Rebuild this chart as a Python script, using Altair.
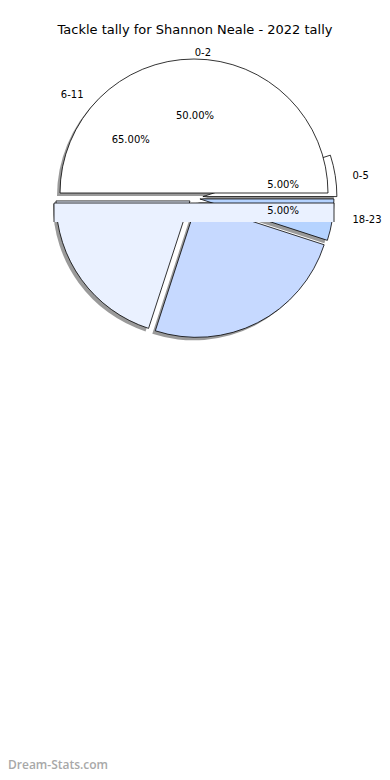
import altair as alt
import pandas as pd
import numpy as np

title_text = "Tackle tally for Shannon Neale - 2022 tally"
watermark = "Dream-Stats.com"

# wedges (percent of the circle, clockwise from 12 o'clock)
wedge_names = ["6-11", "12-17", "18-23", "0-5", "0-2"]
wedge_share = [20, 25, 5, 5, 50]
wedge_start = [55, 30, 25, 20, 75]
wedge_explode = [5, 6, 6, 9, 5]
wedge_colors = ["#eaf1ff", "#c6d9ff", "#b5d3ff", "#ffffff", "#ffffff"]

# category labels (angle in degrees clockwise from 12 o'clock, distance in px)
label_texts = ["0-2", "6-11", "0-5", "18-23"]
label_angle = [3.5, 313, 82, 98]
label_radius = [145, 151, 160, 160]
label_align = ["center", "right", "left", "left"]

# percentage labels
pct_texts = ["50.00%", "65.00%", "5.00%", "5.00%"]
pct_angle = [0.7, 312.6, 81.7, 98.3]
pct_radius = [82, 86, 90, 90]

CX, CY, R = 186, 190, 134
BAND_HALF = 140
SHADOW_DX, SHADOW_DY = -3, 3

wd = pd.DataFrame({"name": wedge_names, "share": wedge_share, "start": wedge_start,
                   "explode": wedge_explode, "color": wedge_colors})
wd["t0"] = wd["start"] / 100 * 2 * np.pi
wd["t1"] = (wd["start"] + wd["share"]) / 100 * 2 * np.pi
mid = (wd["t0"] + wd["t1"]) / 2
wd["cx"] = CX + wd["explode"] * np.sin(mid)
wd["cy"] = CY - wd["explode"] * np.cos(mid)
wd["sx"] = wd["cx"] + SHADOW_DX
wd["sy"] = wd["cy"] + SHADOW_DY
wd["order"] = range(len(wd))

shadow = alt.Chart(wd).mark_arc(color="#9a9a9a", radius=R).encode(
    theta=alt.Theta("t0:Q", scale=None), theta2="t1:Q",
    x=alt.X("sx:Q", scale=None), y=alt.Y("sy:Q", scale=None),
    order=alt.Order("order:Q"),
)
wedges = alt.Chart(wd).mark_arc(radius=R, stroke="black", strokeWidth=0.8).encode(
    theta=alt.Theta("t0:Q", scale=None), theta2="t1:Q",
    x=alt.X("cx:Q", scale=None), y=alt.Y("cy:Q", scale=None),
    fill=alt.Fill("color:N", scale=None),
    order=alt.Order("order:Q"),
)

# rendering band seen in the reference
band_top, band_bottom = CY + 5, CY + 24
one = pd.DataFrame({"a": [0]})
band = alt.Chart(one).mark_rect(color="#eaf1ff").encode(
    x=alt.value(CX - BAND_HALF), x2=alt.value(CX + BAND_HALF),
    y=alt.value(band_top), y2=alt.value(band_bottom))
band_top_line = alt.Chart(one).mark_rule(color="black", strokeWidth=0.8).encode(
    x=alt.value(CX - BAND_HALF), x2=alt.value(CX + BAND_HALF), y=alt.value(band_top))
band_left = alt.Chart(one).mark_rule(color="black", strokeWidth=0.8).encode(
    x=alt.value(CX - BAND_HALF), y=alt.value(band_top), y2=alt.value(band_bottom))
band_right = alt.Chart(one).mark_rule(color="black", strokeWidth=0.8).encode(
    x=alt.value(CX + BAND_HALF), y=alt.value(band_top), y2=alt.value(band_bottom))

ld = pd.DataFrame({"text": label_texts, "a": np.deg2rad(label_angle), "r": label_radius,
                   "align": label_align})
ld["x"] = CX + ld["r"] * np.sin(ld["a"])
ld["y"] = CY - ld["r"] * np.cos(ld["a"])

layers = []
for al in ["center", "left", "right"]:
    sub = ld[ld["align"] == al]
    if len(sub):
        layers.append(alt.Chart(sub).mark_text(font="DejaVu Sans", fontSize=10, align=al,
                                               baseline="middle", color="black").encode(
            x=alt.X("x:Q", scale=None), y=alt.Y("y:Q", scale=None), text="text:N"))

pdf = pd.DataFrame({"text": pct_texts, "a": np.deg2rad(pct_angle), "r": pct_radius})
pdf["x"] = CX + pdf["r"] * np.sin(pdf["a"])
pdf["y"] = CY - pdf["r"] * np.cos(pdf["a"])
pct = alt.Chart(pdf).mark_text(font="DejaVu Sans", fontSize=10, align="center",
                               baseline="middle", color="black").encode(
    x=alt.X("x:Q", scale=None), y=alt.Y("y:Q", scale=None), text="text:N")

title = alt.Chart(pd.DataFrame({"t": [title_text]})).mark_text(
    font="DejaVu Sans", fontSize=13, align="center", baseline="middle", color="black").encode(
    x=alt.value(187), y=alt.value(22), text="t:N")

wm = alt.Chart(pd.DataFrame({"t": [watermark]})).mark_text(
    font="Open Sans", fontSize=12, fontWeight=600, align="left", baseline="middle",
    color="#a8a8a8").encode(x=alt.value(0), y=alt.value(757), text="t:N")

chart = alt.layer(shadow, wedges, band, band_top_line, band_left, band_right,
                  *layers, pct, title, wm).properties(
    width=374, height=764, padding=0,
    autosize=alt.AutoSizeParams(type="none"),
).configure_view(stroke=None)

chart.save("out.html", embed_options={"renderer": "svg", "actions": False})
